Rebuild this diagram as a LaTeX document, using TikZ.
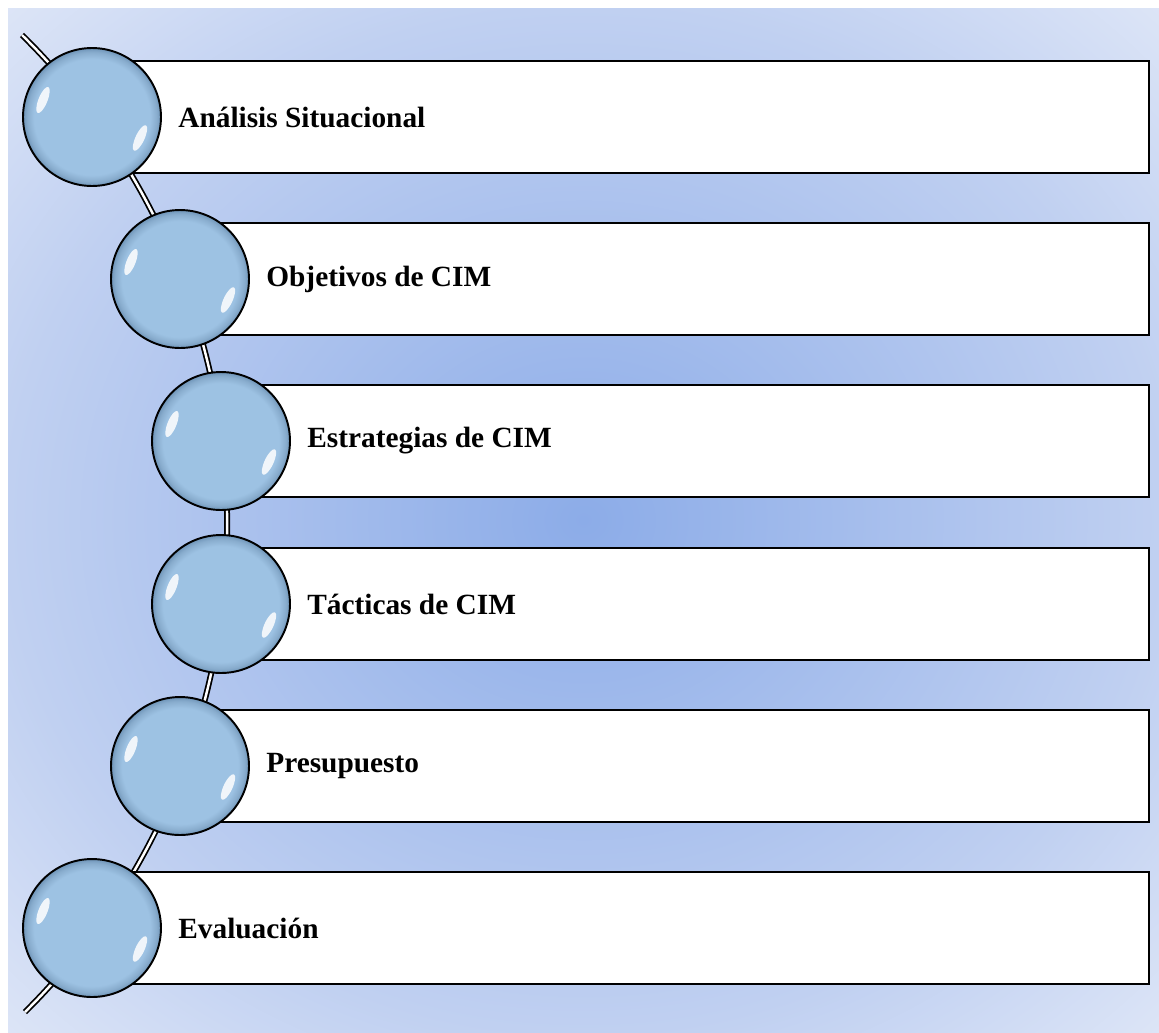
\documentclass[tikz,border=0pt]{standalone}
\usepackage{fontspec}
\setmainfont{Liberation Serif}
\definecolor{ballin}{RGB}{157,194,227}
\definecolor{ballout}{RGB}{136,172,205}
\definecolor{ballrim}{RGB}{110,148,184}
\definecolor{bgin}{RGB}{140,172,232}
\definecolor{bgmid}{RGB}{192,208,241}
\definecolor{bgout}{RGB}{222,230,247}
\pgfdeclareradialshading{ballshade}{\pgfpoint{0bp}{0bp}}{color(0bp)=(ballin); color(21bp)=(ballin); color(23.5bp)=(ballout); color(25bp)=(ballrim); color(50bp)=(ballrim)}
\pgfdeclareradialshading{bgshade}{\pgfpoint{0bp}{0bp}}{color(0bp)=(bgin); color(25bp)=(bgmid); color(36bp)=(bgout); color(50bp)=(bgout)}
\begin{document}
\begin{tikzpicture}[x=0.02cm,y=-0.02cm,
	box/.style={draw,line width=1pt,fill=white},
	ball/.style={circle,draw,line width=1.1pt,shading=ballshade,minimum size=2.76cm,inner sep=0pt},
	hilite/.style={fill=white,opacity=.85},
	spine/.style={draw=black,line width=1pt,double=white,double distance=1.4pt},
	steplabel/.style={font=\fontsize{16.7}{20}\selectfont\bfseries,inner sep=0pt}]
	\useasboundingbox (0,0) rectangle (1159,1032);
	\shade[shading=bgshade] (8,8) rectangle (1159,1032);
	\coordinate (top) at (22,35);
	\coordinate (bot) at (25,1012);
	\draw[spine] (top) .. controls (294,303) and (296,743) .. (bot);
	\foreach \cx/\cy/\lbl [count=\i] in {92/117/Análisis Situacional,180/279/Objetivos de CIM,221/441/Estrategias de CIM,221/604/Tácticas de CIM,180/766/Presupuesto,92/928/Evaluación}{
		\draw[box] (\cx,\cy-56) rectangle (1149,\cy+56);
		\node[steplabel,anchor=west] (t\i) at (\cx+86,\cy) {\lbl};
		\node[ball] (b\i) at (\cx,\cy) {};
		\fill[hilite,rotate around={-22:(\cx-49,\cy-17)}] (\cx-49,\cy-17) ellipse (4.5 and 14);
		\fill[hilite,rotate around={-25:(\cx+48,\cy+21)}] (\cx+48,\cy+21) ellipse (4.5 and 14);
	}
\end{tikzpicture}
\end{document}
